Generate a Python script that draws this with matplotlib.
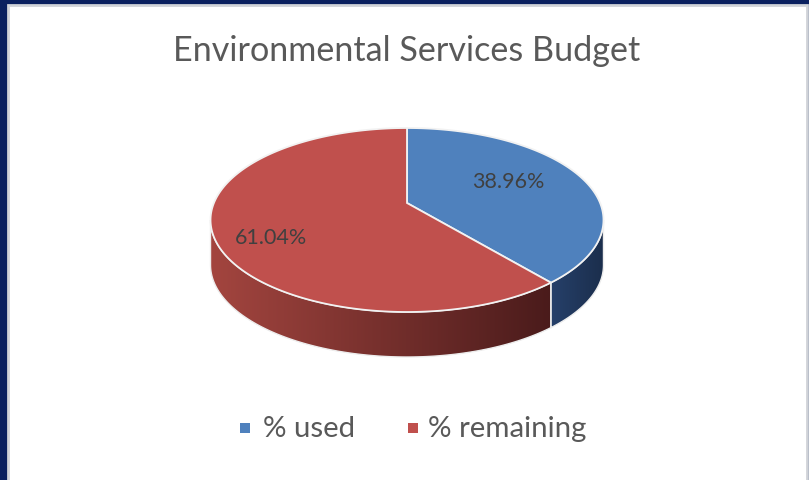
import numpy as np
import matplotlib
matplotlib.use("Agg")
import matplotlib.pyplot as plt
from matplotlib.patches import Polygon, Rectangle
from matplotlib.colors import LinearSegmentedColormap

# ---- data ----
categories = ["% used", "% remaining"]
values = [38.96, 61.04]
labels = ["38.96%", "61.04%"]
title = "Environmental Services Budget"

top_colors = ["#4F81BD", "#C0504D"]
side_colors = [("#26406A", "#1B2E4C"), ("#A3453F", "#4A1B1B")]

W, H = 809, 480
fig = plt.figure(figsize=(W / 100, H / 100), dpi=100)
ax = fig.add_axes([0, 0, 1, 1])
ax.set_xlim(0, W)
ax.set_ylim(H, 0)
ax.axis("off")

# frame
ax.add_patch(Rectangle((0, 0), W, H, facecolor="#0A205F", edgecolor="none", zorder=0))
ax.add_patch(Rectangle((8, 5), 799, H, facecolor="white", edgecolor="#D0D3D8", lw=2, zorder=1))

# perspective pie projection
cx, cy0 = 407.0, 203.0
kx, my, c = 193.1, 88.86, 0.1848
depth = 45.0
FONT = "Lato"


def proj(theta):
    X = np.sin(theta)
    Y = np.cos(theta)
    d = 1 + c * Y
    return cx + kx * X / d, cy0 - my * Y / d


fr = np.array(values) / np.sum(values)
bounds = np.concatenate([[0], np.cumsum(fr)]) * 2 * np.pi
sil_r = np.arccos(-c)
sil_l = 2 * np.pi - sil_r

# walls (front visible arc)
for i in range(len(values)):
    a0 = max(bounds[i], sil_r)
    a1 = min(bounds[i + 1], sil_l)
    if a1 <= a0:
        continue
    t = np.linspace(a0, a1, 120)
    x, y = proj(t)
    px = np.concatenate([x, x[::-1]])
    py = np.concatenate([y, (y + depth)[::-1]])
    poly = Polygon(np.column_stack([px, py]), closed=True, facecolor="none",
                   edgecolor="#EDEDED", lw=1.0, zorder=3)
    ax.add_patch(poly)
    cmap = LinearSegmentedColormap.from_list("g%d" % i, list(side_colors[i]))
    grad = np.linspace(0, 1, 256).reshape(1, -1)
    im = ax.imshow(grad, cmap=cmap, aspect="auto",
                   extent=(px.min(), px.max(), py.max(), py.min()), zorder=2,
                   interpolation="bilinear")
    clip = Polygon(np.column_stack([px, py]), closed=True, transform=ax.transData)
    im.set_clip_path(clip)

# top faces
for i in range(len(values)):
    t = np.linspace(bounds[i], bounds[i + 1], 200)
    x, y = proj(t)
    px = np.concatenate([[cx], x])
    py = np.concatenate([[cy0], y])
    ax.add_patch(Polygon(np.column_stack([px, py]), closed=True,
                         facecolor=top_colors[i], edgecolor="#F2F2F2",
                         lw=1.3, zorder=4))

# data labels
label_pos = [(508, 182), (271, 238)]
for (lx, ly), s in zip(label_pos, labels):
    ax.text(lx, ly, s, ha="center", va="center", fontsize=15.5,
            color="#404040", family=FONT, zorder=5)

# title
ax.text(407, 51, title, ha="center", va="center", fontsize=24.6,
        color="#595959", family=FONT, zorder=5)

# legend
leg = [(245, 263), (413, 428)]
for (mx, tx), name, col in zip(leg, categories, top_colors):
    ax.add_patch(Rectangle((mx - 5, 423), 10, 10, facecolor=col,
                           edgecolor="none", zorder=5))
    ax.text(tx, 429, name, ha="left", va="center", fontsize=21.2,
            color="#595959", family=FONT, zorder=5)

fig.savefig("out.png", dpi=100)
